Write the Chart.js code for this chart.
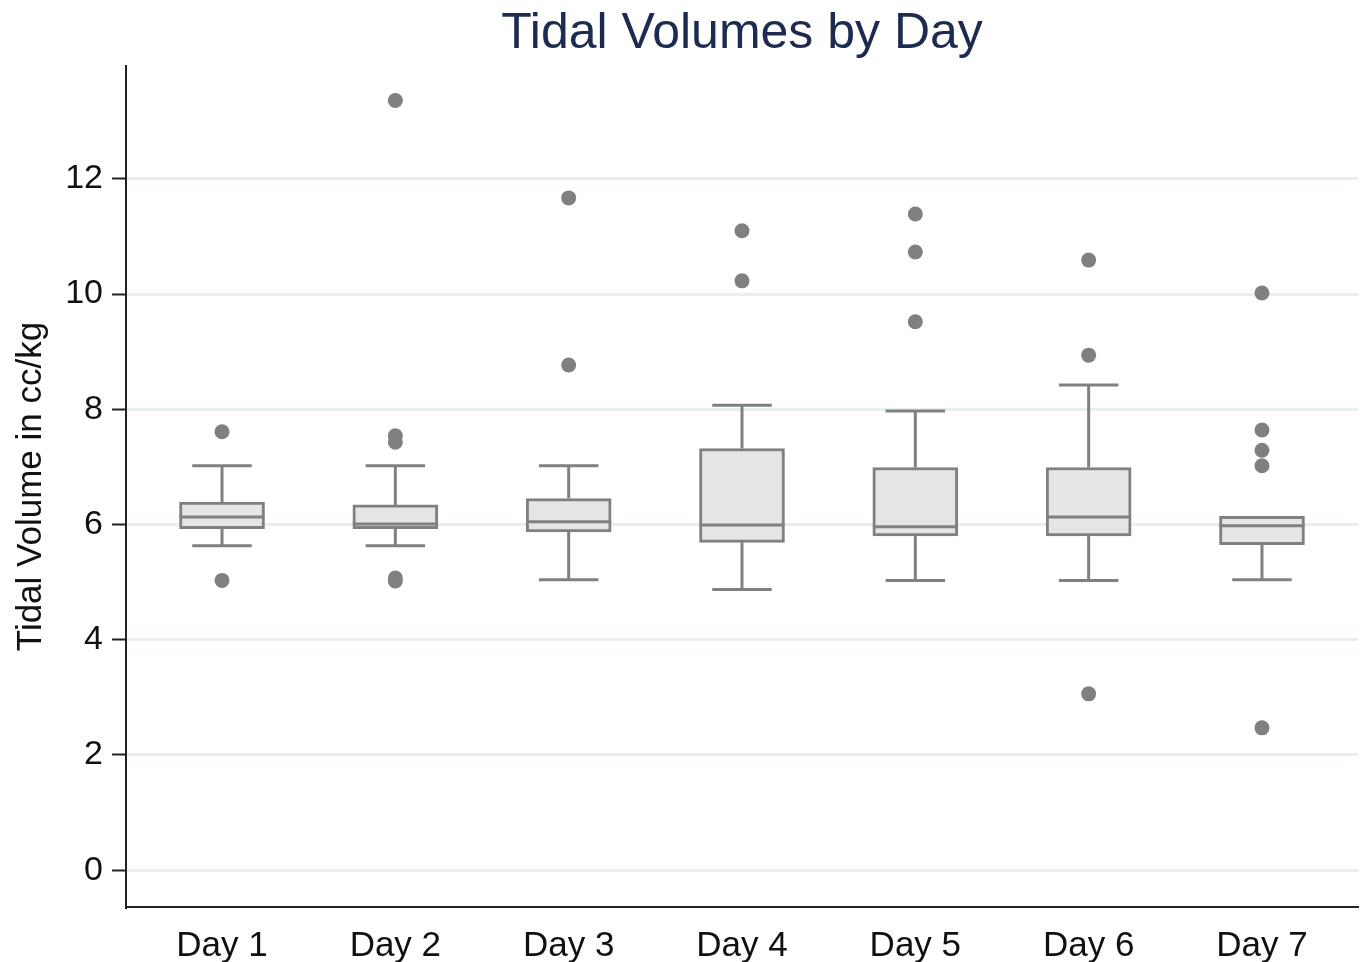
<!DOCTYPE html>
<html>
<head>
<meta charset="utf-8">
<script src="https://cdn.jsdelivr.net/npm/chart.js@4.4.1/dist/chart.umd.min.js"></script>
<style>
  body { margin: 0; background: #ffffff; }
  canvas { display: block; }
</style>
</head>
<body>
<canvas id="boxChart" width="1360" height="962"></canvas>
<script>
// values
const days = ['Day 1', 'Day 2', 'Day 3', 'Day 4', 'Day 5', 'Day 6', 'Day 7'];
const whiskerLow = [5.63, 5.63, 5.04, 4.87, 5.03, 5.03, 5.04];
const q1 = [5.93, 5.93, 5.87, 5.69, 5.80, 5.80, 5.65];
const median = [6.13, 6.01, 6.05, 5.99, 5.96, 6.13, 5.98];
const q3 = [6.39, 6.34, 6.45, 7.32, 6.99, 6.99, 6.14];
const whiskerHigh = [7.02, 7.02, 7.02, 8.07, 7.97, 8.42, 6.14];
const outliers = [
	[7.61, 5.03],
	[13.36, 7.54, 7.43, 5.07, 5.02],
	[11.67, 8.77],
	[11.10, 10.23],
	[11.39, 10.73, 9.52],
	[10.59, 8.94, 3.06],
	[10.02, 7.64, 7.29, 7.02, 2.47]
];
const yTicks = [0, 2, 4, 6, 8, 10, 12];

const grey = '#808080';
const textColor = '#111';
const font = "'Liberation Sans', Arial, sans-serif";

const boxData = days.map((d, i) => ({ x: i + 1, y: [q1[i], q3[i]] }));
const outlierData = [];
outliers.forEach((list, i) => list.forEach(v => outlierData.push({ x: i + 1, y: v })));

// whiskers, caps and median lines, placed with the chart's scales
const whiskerPlugin = {
	id: 'whiskers',
	afterDatasetsDraw(chart) {
		const ctx = chart.ctx;
		const xs = chart.scales.x, ys = chart.scales.y;
		const bars = chart.getDatasetMeta(0).data;
		ctx.save();
		ctx.strokeStyle = grey;
		ctx.lineWidth = 3;
		days.forEach((d, i) => {
			const cx = xs.getPixelForValue(i + 1);
			const half = bars[i].width / 2;
			const cap = half * 0.7;
			const yLo = ys.getPixelForValue(whiskerLow[i]);
			const yQ1 = ys.getPixelForValue(q1[i]);
			const yQ3 = ys.getPixelForValue(q3[i]);
			const yHi = ys.getPixelForValue(whiskerHigh[i]);
			const yMed = ys.getPixelForValue(median[i]);
			ctx.beginPath();
			ctx.moveTo(cx, yQ1); ctx.lineTo(cx, yLo);
			ctx.moveTo(cx - cap, yLo); ctx.lineTo(cx + cap, yLo);
			if (whiskerHigh[i] > q3[i]) {
				ctx.moveTo(cx, yQ3); ctx.lineTo(cx, yHi);
				ctx.moveTo(cx - cap, yHi); ctx.lineTo(cx + cap, yHi);
			}
			ctx.moveTo(cx - half, yMed); ctx.lineTo(cx + half, yMed);
			ctx.stroke();
		});
		ctx.restore();
	}
};

// title centred over the plot area
const titlePlugin = {
	id: 'plotTitle',
	afterDraw(chart) {
		const ctx = chart.ctx;
		const a = chart.chartArea;
		ctx.save();
		ctx.fillStyle = '#1c2b4f';
		ctx.font = '50px ' + font;
		ctx.textAlign = 'center';
		ctx.textBaseline = 'middle';
		ctx.fillText('Tidal Volumes by Day', (a.left + a.right) / 2, 34);
		ctx.restore();
	}
};

const ctx = document.getElementById('boxChart').getContext('2d');
new Chart(ctx, {
	type: 'bar',
	data: {
		datasets: [{
			type: 'bar',
			data: boxData,
			backgroundColor: '#e5e5e5',
			borderColor: grey,
			borderWidth: 3,
			borderSkipped: false,
			barThickness: 85
		}, {
			type: 'scatter',
			data: outlierData,
			backgroundColor: grey,
			borderColor: grey,
			pointRadius: 7.5,
			borderWidth: 0
		}]
	},
	options: {
		responsive: false,
		animation: false,
		layout: { autoPadding: false, padding: { top: 66, right: 2 } },
		plugins: {
			legend: { display: false },
			tooltip: { enabled: false }
		},
		scales: {
			x: {
				type: 'linear',
				offset: false,
				min: 0.446,
				max: 7.554,
				afterBuildTicks: s => { s.ticks = days.map((d, i) => ({ value: i + 1 })); },
				afterFit: s => { s.height = 55; s.paddingLeft = 0; s.paddingRight = 0; },
				grid: { display: false },
				border: { display: true, color: '#222', width: 2 },
				ticks: {
					color: textColor,
					padding: 10,
					maxRotation: 0,
					autoSkip: false,
					font: { family: font, size: 35 },
					callback: v => days[v - 1]
				}
			},
			y: {
				min: -0.64,
				max: 13.96,
				afterBuildTicks: s => { s.ticks = yTicks.map(v => ({ value: v })); },
				afterFit: s => { s.width = 126; },
				grid: {
					color: '#e8eff1',
					lineWidth: 3,
					tickColor: '#222',
					tickLength: 14,
					tickWidth: 2
				},
				border: { display: true, color: '#222', width: 2 },
				ticks: {
					color: textColor,
					padding: 9,
					font: { family: font, size: 34 }
				},
				title: {
					display: true,
					text: 'Tidal Volume in cc/kg',
					color: textColor,
					font: { family: font, size: 35 },
					padding: { top: 10, bottom: 0 }
				}
			}
		}
	},
	plugins: [whiskerPlugin, titlePlugin]
});
</script>
</body>
</html>
